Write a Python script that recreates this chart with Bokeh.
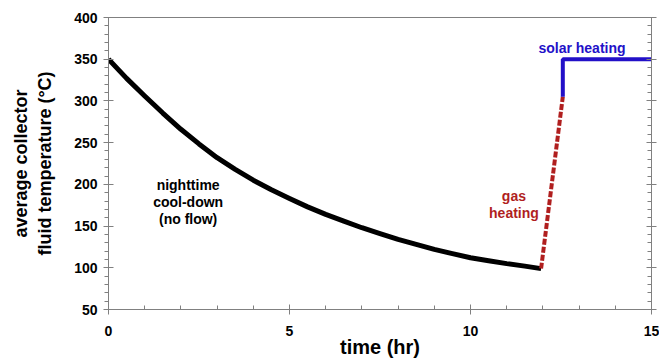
from bokeh.plotting import figure
from bokeh.models import Range1d, LinearAxis, Label, SingleIntervalTicker
from bokeh.embed import file_html
from bokeh.resources import INLINE

# Data
cool_t = [0, 0.5, 1, 1.5, 2, 2.5, 3, 3.5, 4, 4.5, 5, 5.5, 6, 6.5, 7, 7.5, 8,
          8.5, 9, 9.5, 10, 10.5, 11, 11.5, 11.95]
cool_T = [350, 327, 306, 285.5, 266, 248.5, 232, 218, 205, 193.5, 183, 173, 164,
          156, 148, 141, 134, 128, 122, 117, 112, 108.5, 105, 102, 99]
gas_t = [11.95, 12.55]
gas_T = [99, 305]
solar_t = [12.55, 12.55, 15]
solar_T = [305, 350, 350]

FONT = "Liberation Sans"
GRAY = "#808080"

p = figure(width=659, height=360, output_backend="svg", toolbar_location=None,
           x_range=Range1d(0, 15), y_range=Range1d(50, 400),
           min_border_left=108, min_border_right=8, min_border_top=17, min_border_bottom=45)
p.outline_line_color = GRAY
p.outline_line_width = 1
p.xgrid.visible = False
p.ygrid.visible = False
p.background_fill_color = "white"
p.border_fill_color = "white"

p.line(cool_t, cool_T, line_color="black", line_width=5, line_join="round")
p.line(gas_t, gas_T, line_color="#b01e1e", line_width=4, line_dash="6 2")
p.line(solar_t, solar_T, line_color="#2210c8", line_width=4)

xa = p.xaxis[0]
xa.ticker = SingleIntervalTicker(interval=5, num_minor_ticks=5)
xa.axis_label = "time (hr)"
ya = p.yaxis[0]
ya.ticker = SingleIntervalTicker(interval=50, num_minor_ticks=5)
ya.axis_label = "average collector\nfluid temperature (°C)"

for ax in (xa, ya):
    ax.axis_line_color = GRAY
    ax.major_tick_line_color = GRAY
    ax.minor_tick_line_color = GRAY
    ax.major_label_text_font = FONT
    ax.major_label_text_font_style = "bold"
    ax.major_label_text_font_size = "14px"
    ax.major_label_text_color = "black"
    ax.axis_label_text_font = FONT
    ax.axis_label_text_font_style = "bold"
    ax.axis_label_text_color = "black"
    ax.major_tick_in = 5
    ax.major_tick_out = 5

xa.axis_label_text_font_size = "20px"
ya.axis_label_text_font_size = "18px"
xa.minor_tick_in = 4
xa.minor_tick_out = 0
xa.major_label_standoff = 11
xa.axis_label_standoff = -3
ya.minor_tick_in = 0
ya.minor_tick_out = 4
ya.major_label_standoff = 6
ya.axis_label_standoff = 16

ra = LinearAxis(ticker=SingleIntervalTicker(interval=50, num_minor_ticks=5))
ra.major_label_text_font_size = "0px"
ra.axis_line_color = GRAY
ra.major_tick_line_color = GRAY
ra.minor_tick_line_color = GRAY
ra.major_tick_in = 5
ra.major_tick_out = 5
ra.minor_tick_in = 4
ra.minor_tick_out = 0
ra.major_label_standoff = 0
p.add_layout(ra, "right")

def lab(x, y, text, color):
    p.add_layout(Label(x=x, y=y, text=text, text_font=FONT, text_font_style="bold",
                       text_font_size="14px", text_color=color, text_align="center",
                       text_baseline="middle", text_line_height=1.05))

lab(2.2, 179, "nighttime\ncool-down\n(no flow)", "black")
lab(11.2, 176, "gas\nheating", "#b01e1e")
lab(13.08, 364, "solar heating", "#2210c8")

open("out.html", "w").write(file_html(p, INLINE))
